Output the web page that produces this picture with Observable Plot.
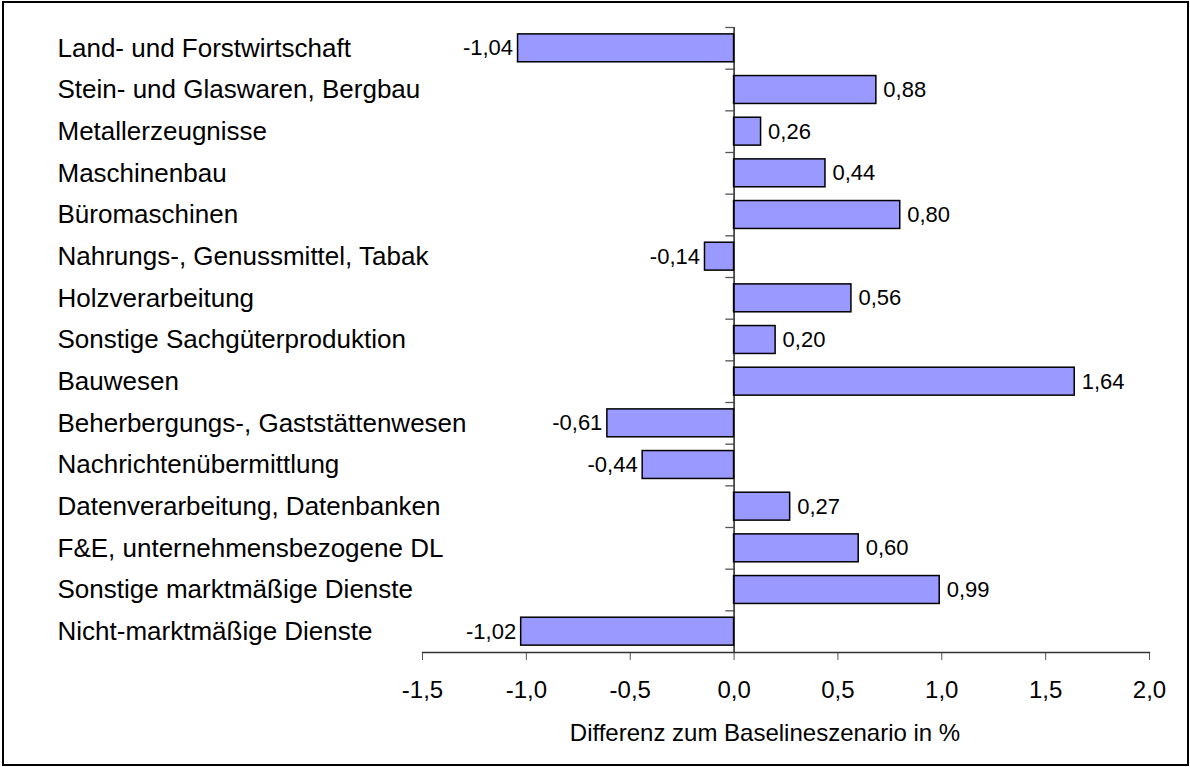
<!DOCTYPE html>
<html><head><meta charset="utf-8">
<script src="https://cdn.jsdelivr.net/npm/d3@7"></script>
<script src="https://cdn.jsdelivr.net/npm/@observablehq/plot@0.6"></script>
<style>
body{margin:0;background:#fff;}
#wrap{position:relative;width:1190px;height:767px;overflow:hidden;background:#fff;}
#wrap svg{display:block;}
#border{position:absolute;left:2px;top:1px;width:1187px;height:765px;border:2px solid #000;box-sizing:border-box;pointer-events:none;}
</style></head><body>
<div id="wrap"><div id="border"></div></div>
<script>
const categories = [
  "Land- und Forstwirtschaft",
  "Stein- und Glaswaren, Bergbau",
  "Metallerzeugnisse",
  "Maschinenbau",
  "Büromaschinen",
  "Nahrungs-, Genussmittel, Tabak",
  "Holzverarbeitung",
  "Sonstige Sachgüterproduktion",
  "Bauwesen",
  "Beherbergungs-, Gaststättenwesen",
  "Nachrichtenübermittlung",
  "Datenverarbeitung, Datenbanken",
  "F&E, unternehmensbezogene DL",
  "Sonstige marktmäßige Dienste",
  "Nicht-marktmäßige Dienste"
];
// bar lengths as drawn in the picture
const values = [-1.04, 0.685, 0.13, 0.44, 0.80, -0.14, 0.565, 0.20, 1.64, -0.61, -0.44, 0.27, 0.60, 0.99, -1.025];
// data labels as printed in the picture
const valueLabels = ["-1,04", "0,88", "0,26", "0,44", "0,80", "-0,14", "0,56", "0,20", "1,64", "-0,61", "-0,44", "0,27", "0,60", "0,99", "-1,02"];
const xTicks = [-1.5, -1.0, -0.5, 0.0, 0.5, 1.0, 1.5, 2.0];
const xTitle = "Differenz zum Baselineszenario in %";

const data = categories.map((c, i) => ({category: c, value: values[i], label: valueLabels[i]}));
const comma = (v, d) => v.toFixed(d).replace(".", ",");

const W = 1190, H = 767, mT = 27, mB = 115;
const step = (H - mT - mB) / categories.length;

const chart = Plot.plot({
  width: W,
  height: H,
  marginLeft: 422,
  marginRight: 41,
  marginTop: mT,
  marginBottom: mB,
  style: {fontFamily: "'Liberation Sans', Arial, sans-serif", color: "#000", background: "#fff"},
  x: {domain: [-1.5, 2], nice: false},
  y: {domain: categories, paddingInner: 0.33, paddingOuter: 0.165, round: false},
  marks: [
    Plot.ruleY(data, {y: "category", x1: -0.04, x2: 0, dy: -step / 2, stroke: "#555", strokeWidth: 1.3}),
    Plot.barX(data, {x: "value", y: "category", fill: "#9999ff", stroke: "#000", strokeWidth: 1.5}),
    Plot.ruleX([0], {stroke: "#000", strokeWidth: 1.3}),
    Plot.text(data.filter(d => d.value >= 0), {x: "value", y: "category", text: "label", textAnchor: "start", dx: 7, fontSize: 22}),
    Plot.text(data.filter(d => d.value < 0), {x: "value", y: "category", text: "label", textAnchor: "end", dx: -5, fontSize: 22}),
    Plot.axisY({tickSize: 0, tickPadding: 0, textAnchor: "start", dx: -365, fontSize: 26, label: null}),
    Plot.axisX({ticks: xTicks, tickFormat: t => comma(t, 1), tickSize: 8, tickPadding: 20, fontSize: 24, stroke: "#555", label: null}),
    Plot.frame({anchor: "bottom", stroke: "#333", strokeWidth: 1.3}),
    Plot.text([xTitle], {frameAnchor: "bottom", dx: -21, dy: 88, fontSize: 24})
  ]
});
document.getElementById("wrap").prepend(chart);
</script>
</body></html>
